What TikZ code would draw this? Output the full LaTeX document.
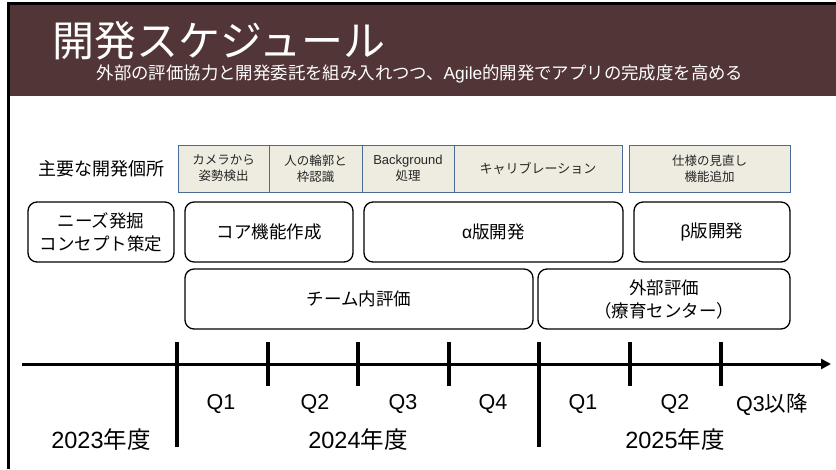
\documentclass[tikz,border=0pt]{standalone}
\usepackage{fontspec}
\setmainfont{Noto Sans CJK JP}
\newfontfamily\lat{Liberation Sans}
\usetikzlibrary{arrows.meta}
\definecolor{hdr}{HTML}{523536}
\definecolor{tagfill}{HTML}{EEECE1}
\definecolor{tagline}{HTML}{4A6A98}
\begin{document}
\begin{tikzpicture}[x=1pt,y=-1pt,
  tag/.style={draw=tagline, line width=1pt, fill=tagfill, inner sep=0, outer sep=0,
    align=center, minimum height=47pt, text=black!85,
    font=\fontsize{12.5}{16}\selectfont},
  phase/.style={draw, line width=1.3pt, rounded corners=9pt, inner sep=0, outer sep=0,
    align=center, minimum height=60pt, font=\fontsize{17.5}{23}\selectfont},
  qlab/.style={inner sep=0, font=\fontsize{21.5}{24}\selectfont\lat},
  ylab/.style={inner sep=0, font=\fontsize{23.5}{26}\selectfont},
  axisline/.style={line width=3pt, -{Triangle[length=10pt,width=10pt]}},
  majtick/.style={line width=4pt},
  mintick/.style={line width=3.5pt}
]
\useasboundingbox (0,0) rectangle (836,469);
% header and frame
\fill[hdr] (10,4) rectangle (836,96);
\draw[line width=3pt] (8.5,469) -- (8.5,3.5) -- (836,3.5);
\node[anchor=west, inner sep=0, text=white, font=\fontsize{42}{42}\selectfont] (title) at (52,41) {開発スケジュール};
\node[inner sep=0, text=white, font=\fontsize{17.4}{18}\selectfont] (subtitle) at (420,74)
  {外部の評価協力と開発委託を組み入れつつ、{\lat Agile}的開発でアプリの完成度を高める};
% row label
\node[inner sep=0, font=\fontsize{18}{18}\selectfont] (rowlab) at (101,169) {主要な開発個所};
% tags
\node[tag, minimum width=91pt] (t1) at (223.5,168.5) {カメラから\\姿勢検出};
\node[tag, minimum width=93pt] (t2) at (315.5,168.5) {人の輪郭と\\枠認識};
\node[tag, minimum width=92pt] (t3) at (408,168.5) {{\lat\fontsize{13}{16}\selectfont Background}\\処理};
\node[tag, minimum width=168pt, font=\fontsize{13}{16}\selectfont] (t4) at (538,168.5) {キャリブレーション};
\node[tag, minimum width=161pt] (t5) at (709.5,168.5) {仕様の見直し\\機能追加};
% phases
\node[phase, minimum width=146pt] (pA) at (101,232) {ニーズ発掘\\コンセプト策定};
\node[phase, minimum width=168pt] (pB) at (269,232) {コア機能作成};
\node[phase, minimum width=259pt] (pC) at (493.5,232) {{\lat α}版開発};
\node[phase, minimum width=156pt] (pD) at (712,232) {{\lat β}版開発};
\node[phase, minimum width=348pt] (pE) at (359,299) {チーム内評価};
\node[phase, minimum width=252pt] (pF) at (664,299) {外部評価\\（療育センター）};
% timeline
\coordinate (ax0) at (22,364);
\coordinate (ax1) at (831,364);
\draw[axisline] (ax0) -- (ax1);
\foreach \x/\n in {177/m1, 539/m2} {
  \coordinate (\n a) at (\x,342);
  \coordinate (\n b) at (\x,447);
  \draw[majtick] (\n a) -- (\n b);
}
\foreach \x/\n in {268/s1, 358/s2, 449/s3, 630/s4, 721/s5} {
  \coordinate (\n a) at (\x,342);
  \coordinate (\n b) at (\x,386);
  \draw[mintick] (\n a) -- (\n b);
}
\node[qlab] (q1) at (221,404) {Q1};
\node[qlab] (q2) at (315,404) {Q2};
\node[qlab] (q3) at (403,404) {Q3};
\node[qlab] (q4) at (493,404) {Q4};
\node[qlab] (q5) at (583,404) {Q1};
\node[qlab] (q6) at (675,404) {Q2};
\node[qlab] (q7) at (772,404) {Q3\fontspec{Noto Sans CJK JP}以降};
\node[ylab] (y1) at (101,440) {{\lat 2023}年度};
\node[ylab] (y2) at (358,440) {{\lat 2024}年度};
\node[ylab] (y3) at (675,440) {{\lat 2025}年度};
\end{tikzpicture}
\end{document}
